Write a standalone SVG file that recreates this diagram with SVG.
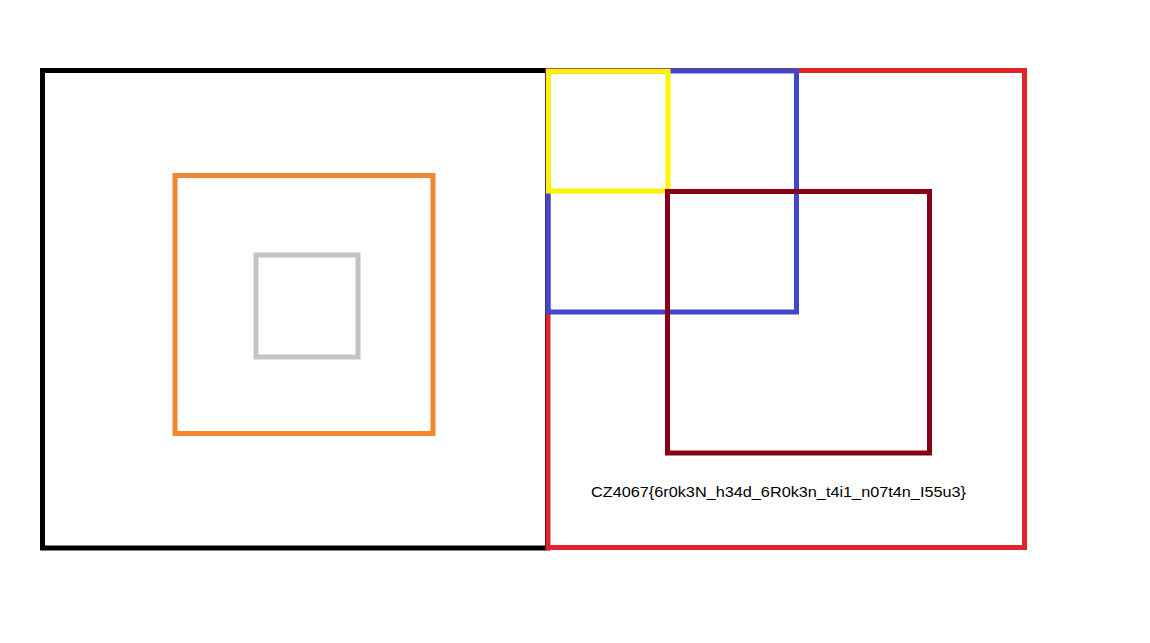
<svg xmlns="http://www.w3.org/2000/svg" width="1150" height="643" viewBox="0 0 1150 643">
<style>
.b{fill:none;stroke-width:5}
.t{font-family:"Liberation Sans",Arial,sans-serif;font-size:15.5px;fill:#000}
</style>
<rect width="1150" height="643" fill="#fff"/>
<g id="black"><rect class="b" x="42.5" y="70.5" width="505" height="477.5" stroke="#000"/></g>
<g id="orange"><rect class="b" x="175" y="175.5" width="258" height="258" stroke="#F2872F"/></g>
<g id="gray"><rect class="b" x="256" y="255" width="102" height="102" stroke="#C3C3C3" stroke-width="4"/></g>
<g id="red"><rect class="b" x="548" y="70.5" width="476.5" height="477" stroke="#E0262B"/></g>
<g id="blue"><rect class="b" x="548" y="71" width="248.5" height="241" stroke="#3F48CC"/></g>
<g id="yellow"><rect class="b" x="548.5" y="71.3" width="119.5" height="119.7" stroke="#FFF200"/></g>
<g id="darkred"><rect class="b" x="667.5" y="191.5" width="262" height="261.5" stroke="#880015"/></g>
<g id="label"><text class="t" x="591" y="497" textLength="375" lengthAdjust="spacingAndGlyphs">CZ4067{6r0k3N_h34d_6R0k3n_t4i1_n07t4n_I55u3}</text></g>
<g id="connectors"/>
</svg>
